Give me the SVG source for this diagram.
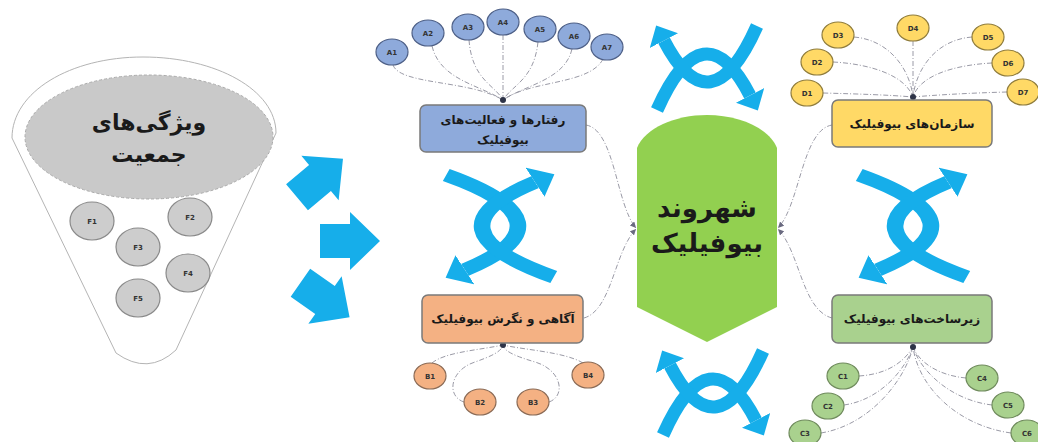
<svg xmlns="http://www.w3.org/2000/svg" xmlns:xlink="http://www.w3.org/1999/xlink" width="1038" height="442" viewBox="0 0 1038 442">
<style>
text{font-family:"DejaVu Sans",sans-serif;font-weight:bold;fill:#1a1a1a;text-anchor:middle}
.lbl{font-size:7px;fill:#333}
.box{font-size:12px}
.ln{fill:none;stroke:#9a9aa6;stroke-width:1;stroke-dasharray:5 2 1 2}
.cn{fill:none;stroke:#9a9aa6;stroke-width:1;stroke-dasharray:5 2 1 2;marker-end:url(#sm)}
.xa{fill:none;stroke:#16aeea;stroke-width:13;marker-end:url(#bh)}
.ca{fill:#8eaadb;stroke:#4d5f86;stroke-width:1.2}
.cd{fill:#ffd966;stroke:#8f7c3c;stroke-width:1.2}
.cb{fill:#f4b183;stroke:#8a6a55;stroke-width:1.2}
.cc{fill:#a9d18e;stroke:#6f8a5c;stroke-width:1.2}
.cf{fill:#cdcdcd;stroke:#8a8a8a;stroke-width:1.2}
.bx{stroke:#7a7a7a;stroke-width:1.5}
.bar{fill:#16aeea}
</style>
<defs>
<marker id="sm" viewBox="0 0 10 10" refX="10" refY="5" markerWidth="6" markerHeight="6" orient="auto"><path d="M0,0 L10,5 L0,10 z" fill="#6a6a80"/></marker>
<marker id="bh" viewBox="0 -16 17 32" refX="0" refY="0" markerWidth="17" markerHeight="32" markerUnits="userSpaceOnUse" orient="auto"><path d="M0,-16 L17,0 L0,16 Z" fill="#16aeea"/></marker>
<g id="xchg"><path class="xa" d="M-50,42 Q-3.5,-62.2 43,27.4"/><path class="xa" transform="rotate(180)" d="M-50,42 Q-3.5,-62.2 43,27.4"/></g>
<path id="barrow" d="M-30,-17 L0,-17 L0,-29 L30,0 L0,29 L0,17 L-30,17 Z"/>
</defs>

<g id="funnel">
<path d="M12,138 C12,92 70,57 143,57 C216,57 276,90 276,133 L176,350 Q148,376 116,353 Z" fill="#fff" stroke="#b4b4b4" stroke-width="1"/>
<ellipse cx="149" cy="137" rx="124" ry="62" fill="#c9c9c9" stroke="#aaa" stroke-width="1" stroke-dasharray="3 2"/>
<text x="149" y="130" font-size="22">ویژگی‌های</text>
<text x="149" y="162" font-size="22">جمعیت</text>
</g>
<g id="F1"><ellipse class="cf" cx="92" cy="221" rx="22" ry="19"/><text class="lbl" x="92" y="224">F1</text></g>
<g id="F2"><ellipse class="cf" cx="190" cy="217" rx="22" ry="19"/><text class="lbl" x="190" y="220">F2</text></g>
<g id="F3"><ellipse class="cf" cx="138" cy="247" rx="22" ry="19"/><text class="lbl" x="138" y="250">F3</text></g>
<g id="F4"><ellipse class="cf" cx="188" cy="273" rx="22" ry="19"/><text class="lbl" x="188" y="276">F4</text></g>
<g id="F5"><ellipse class="cf" cx="138" cy="298" rx="22" ry="19"/><text class="lbl" x="138" y="301">F5</text></g>

<g id="arrows">
<use xlink:href="#barrow" class="bar" transform="translate(320,178) rotate(-40)"/>
<use xlink:href="#barrow" class="bar" transform="translate(350,241)"/>
<use xlink:href="#barrow" class="bar" transform="translate(325,300) rotate(35)"/>
</g>

<g id="exchanges">
<use xlink:href="#xchg" transform="translate(707,68)"/>
<use xlink:href="#xchg" transform="translate(713,393)"/>
<use xlink:href="#xchg" transform="translate(500,226) rotate(90) scale(1.02,1.28)"/>
<use xlink:href="#xchg" transform="translate(913,226) rotate(90) scale(1.02,1.28)"/>
</g>

<g id="connectors">
<path class="ln" d="M393,65 C400,85 470,80 503,100"/>
<path class="ln" d="M432,46 C440,80 480,85 503,100"/>
<path class="ln" d="M469,40 C472,80 495,85 503,100"/>
<path class="ln" d="M503,35 L503,100"/>
<path class="ln" d="M538,42 C534,80 512,85 503,100"/>
<path class="ln" d="M572,49 C565,80 525,85 503,100"/>
<path class="ln" d="M603,59 C590,85 530,80 503,100"/>
<path class="ln" d="M823,93 C860,94 890,95 913,97"/>
<path class="ln" d="M833,62 C870,64 905,75 913,97"/>
<path class="ln" d="M854,37 C890,40 910,70 913,97"/>
<path class="ln" d="M913,41 L913,97"/>
<path class="ln" d="M972,37 C935,40 916,70 913,97"/>
<path class="ln" d="M992,63 C955,65 920,75 913,97"/>
<path class="ln" d="M1007,92 C970,93 935,95 913,97"/>
<path class="ln" d="M432,363 C445,352 480,350 503,345"/>
<path class="ln" d="M464,402 C446,396 450,370 475,362 C492,356 500,352 503,346"/>
<path class="ln" d="M549,402 C566,396 562,370 535,362 C515,356 506,352 503,346"/>
<path class="ln" d="M583,363 C565,352 525,350 503,345"/>
<path class="ln" d="M859,376 C890,374 905,360 913,347"/>
<path class="ln" d="M844,405 C880,400 905,370 913,347"/>
<path class="ln" d="M821,433 C870,425 905,380 913,347"/>
<path class="ln" d="M966,378 C935,375 918,360 913,347"/>
<path class="ln" d="M992,405 C950,400 920,370 913,347"/>
<path class="ln" d="M1011,433 C955,425 918,385 913,347"/>
<path class="cn" d="M586,125 C615,130 616,205 636,228"/>
<path class="cn" d="M584,318 C612,310 614,252 636,229"/>
<path class="cn" d="M832,125 C802,130 800,205 778,228"/>
<path class="cn" d="M832,318 C802,310 800,252 778,229"/>
<circle cx="503" cy="100" r="3" fill="#2e3448"/>
<circle cx="913" cy="97" r="3" fill="#2e3448"/>
<circle cx="503" cy="345" r="3" fill="#2e3448"/>
<circle cx="913" cy="347" r="3" fill="#2e3448"/>
</g>

<g id="A1"><ellipse class="ca" cx="392" cy="52" rx="16" ry="13"/><text class="lbl" x="392" y="55">A1</text></g>
<g id="A2"><ellipse class="ca" cx="428" cy="33" rx="16" ry="13"/><text class="lbl" x="428" y="36">A2</text></g>
<g id="A3"><ellipse class="ca" cx="468" cy="27" rx="16" ry="13"/><text class="lbl" x="468" y="30">A3</text></g>
<g id="A4"><ellipse class="ca" cx="503" cy="22" rx="16" ry="13"/><text class="lbl" x="503" y="25">A4</text></g>
<g id="A5"><ellipse class="ca" cx="540" cy="29" rx="16" ry="13"/><text class="lbl" x="540" y="32">A5</text></g>
<g id="A6"><ellipse class="ca" cx="574" cy="36" rx="16" ry="13"/><text class="lbl" x="574" y="39">A6</text></g>
<g id="A7"><ellipse class="ca" cx="607" cy="47" rx="16" ry="13"/><text class="lbl" x="607" y="50">A7</text></g>

<g id="D1"><ellipse class="cd" cx="807" cy="93" rx="16" ry="13"/><text class="lbl" x="807" y="96">D1</text></g>
<g id="D2"><ellipse class="cd" cx="817" cy="62" rx="16" ry="13"/><text class="lbl" x="817" y="65">D2</text></g>
<g id="D3"><ellipse class="cd" cx="838" cy="35" rx="16" ry="13"/><text class="lbl" x="838" y="38">D3</text></g>
<g id="D4"><ellipse class="cd" cx="913" cy="28" rx="16" ry="13"/><text class="lbl" x="913" y="31">D4</text></g>
<g id="D5"><ellipse class="cd" cx="988" cy="37" rx="16" ry="13"/><text class="lbl" x="988" y="40">D5</text></g>
<g id="D6"><ellipse class="cd" cx="1008" cy="63" rx="16" ry="13"/><text class="lbl" x="1008" y="66">D6</text></g>
<g id="D7"><ellipse class="cd" cx="1023" cy="92" rx="16" ry="13"/><text class="lbl" x="1023" y="95">D7</text></g>

<g id="B1"><ellipse class="cb" cx="430" cy="376" rx="16" ry="13"/><text class="lbl" x="430" y="379">B1</text></g>
<g id="B2"><ellipse class="cb" cx="480" cy="402" rx="16" ry="13"/><text class="lbl" x="480" y="405">B2</text></g>
<g id="B3"><ellipse class="cb" cx="533" cy="402" rx="16" ry="13"/><text class="lbl" x="533" y="405">B3</text></g>
<g id="B4"><ellipse class="cb" cx="588" cy="375" rx="16" ry="13"/><text class="lbl" x="588" y="378">B4</text></g>

<g id="C1"><ellipse class="cc" cx="843" cy="376" rx="16" ry="13"/><text class="lbl" x="843" y="379">C1</text></g>
<g id="C2"><ellipse class="cc" cx="828" cy="406" rx="16" ry="13"/><text class="lbl" x="828" y="409">C2</text></g>
<g id="C3"><ellipse class="cc" cx="805" cy="433" rx="16" ry="13"/><text class="lbl" x="805" y="436">C3</text></g>
<g id="C4"><ellipse class="cc" cx="982" cy="378" rx="16" ry="13"/><text class="lbl" x="982" y="381">C4</text></g>
<g id="C5"><ellipse class="cc" cx="1008" cy="405" rx="16" ry="13"/><text class="lbl" x="1008" y="408">C5</text></g>
<g id="C6"><ellipse class="cc" cx="1027" cy="433" rx="16" ry="13"/><text class="lbl" x="1027" y="436">C6</text></g>

<g id="behaviors"><rect class="bx" x="420" y="105" width="166" height="47" rx="6" fill="#8eaadb"/><text class="box" x="503" y="124">رفتارها و فعالیت‌های</text><text class="box" x="503" y="144">بیوفیلیک</text></g>
<g id="awareness"><rect class="bx" x="422" y="295" width="161" height="48" rx="6" fill="#f4b183"/><text class="box" x="503" y="323">آگاهی و نگرش بیوفیلیک</text></g>
<g id="organizations"><rect class="bx" x="832" y="100" width="160" height="47" rx="6" fill="#ffd966"/><text class="box" x="912" y="128">سازمان‌های بیوفیلیک</text></g>
<g id="infrastructure"><rect class="bx" x="832" y="295" width="160" height="48" rx="6" fill="#a9d18e"/><text class="box" x="912" y="323">زیرساخت‌های بیوفیلیک</text></g>

<g id="citizen">
<path d="M637,148 C645,128 675,115 707,115 C739,115 769,128 777,148 L777,307 L707,342 L637,307 Z" fill="#92d050"/>
<text x="707" y="217" font-size="26">شهروند</text>
<text x="707" y="252" font-size="26">بیوفیلیک</text>
</g>
</svg>
